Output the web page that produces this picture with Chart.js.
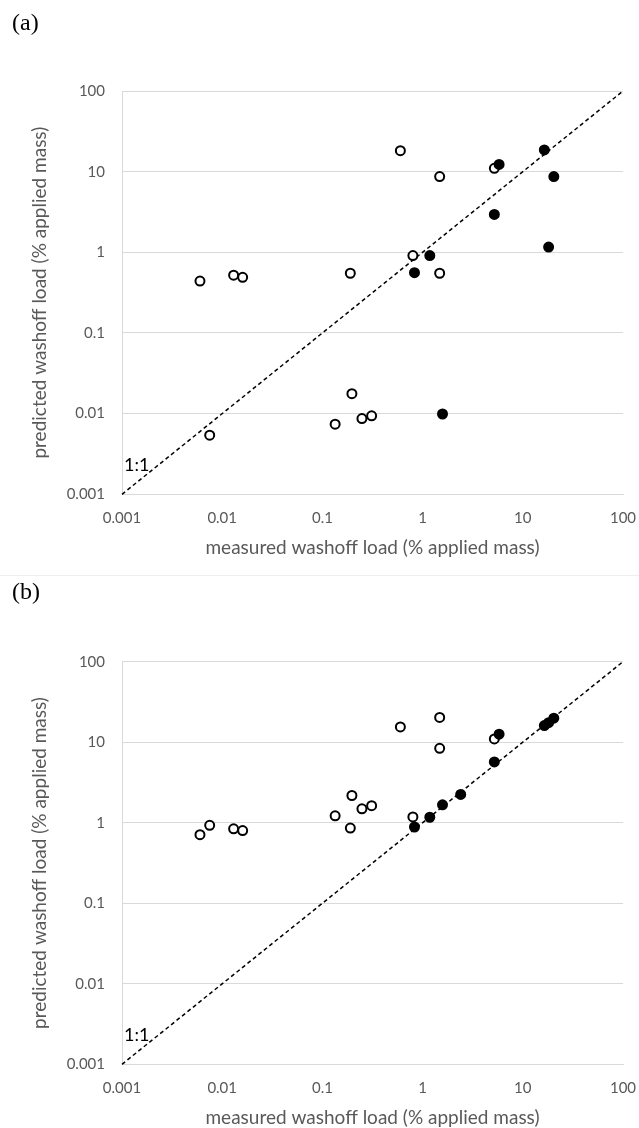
<!DOCTYPE html>
<html>
<head>
<meta charset="utf-8">
<script src="https://cdn.jsdelivr.net/npm/chart.js@4.4.1/dist/chart.umd.min.js"></script>
<style>
  html, body { margin: 0; padding: 0; background: #ffffff; }
  body { width: 639px; height: 1128px; position: relative; overflow: hidden; }
  .panel { position: absolute; left: 0; width: 639px; }
  .tag { position: absolute; left: 12px; font-family: "Liberation Serif", "DejaVu Serif", serif; font-size: 24px; line-height: 1; color: #000; z-index: 2; }
  #sep { position: absolute; left: 0; top: 575px; width: 639px; height: 1px; background: #eeeeee; z-index: 1; }
</style>
</head>
<body>
<div class="tag" style="top:10px">(a)</div>
<div class="tag" style="top:579px">(b)</div>
<div class="panel" id="wrapA" style="top:0px;height:575px"><canvas id="chartA"></canvas></div>
<div class="panel" id="wrapB" style="top:570px;height:558px"><canvas id="chartB"></canvas></div>
<div id="sep"></div>
<script>
// ---- Data (measured washoff load, predicted washoff load; % applied mass) ----
const TICK_VALUES = [0.001, 0.01, 0.1, 1, 10, 100];
const TICK_LABELS = ['0.001', '0.01', '0.1', '1', '10', '100'];

// open circles: same measured values in both panels
const OPEN_MEASURED = [0.006, 0.0075, 0.013, 0.016, 0.134, 0.19, 0.197, 0.248, 0.31, 0.60, 0.80, 1.48, 1.48, 5.2];
const A_OPEN_PREDICTED = [0.44, 0.0054, 0.52, 0.49, 0.0074, 0.55, 0.0177, 0.0087, 0.0094, 18.2, 0.91, 8.7, 0.55, 11.0];
const B_OPEN_PREDICTED = [0.71, 0.93, 0.84, 0.80, 1.22, 0.86, 2.18, 1.49, 1.63, 15.5, 1.18, 20.3, 8.4, 11.0];

// filled circles
const A_FILLED_MEASURED = [0.83, 1.18, 1.58, 5.2, 5.8, 16.4, 18.1, 20.4];
const A_FILLED_PREDICTED = [0.56, 0.91, 0.0099, 2.95, 12.3, 18.6, 1.16, 8.7];
const B_FILLED_MEASURED = [0.83, 1.18, 1.58, 2.4, 5.2, 5.8, 16.4, 18.1, 20.4];
const B_FILLED_PREDICTED = [0.885, 1.17, 1.67, 2.25, 5.7, 12.6, 16.1, 17.5, 19.9];

// 1:1 reference line
const ONE_TO_ONE = [0.001, 100];
const ONE_TO_ONE_LABEL = { text: '1:1', x: 0.00105, y: 0.00232 };

const X_TITLE = 'measured washoff load (% applied mass)';
const Y_TITLE = 'predicted washoff load (% applied mass)';

// ---- helpers ----
const GRAY_TEXT = '#595959';
const GRID = '#d9d9d9';
const FONT = 'Lato, "Open Sans", "Liberation Sans", sans-serif';

function pts(xs, ys) { return xs.map((x, i) => ({ x: x, y: ys[i] })); }

const labelPlugin = {
  id: 'oneToOneLabel',
  afterDatasetsDraw(chart) {
    const { ctx, scales } = chart;
    const px = scales.x.getPixelForValue(ONE_TO_ONE_LABEL.x);
    const py = scales.y.getPixelForValue(ONE_TO_ONE_LABEL.y);
    ctx.save();
    ctx.font = '18px ' + FONT;
    ctx.fillStyle = '#000000';
    ctx.textAlign = 'left';
    ctx.textBaseline = 'middle';
    ctx.fillText(ONE_TO_ONE_LABEL.text, px, py);
    ctx.restore();
  }
};

function makeChart(id, openY, filledX, filledY, topPad, bottomPad) {
  const ctx = document.getElementById(id);
  return new Chart(ctx, {
    type: 'scatter',
    data: {
      datasets: [
        {
          label: 'filled',
          data: pts(filledX, filledY),
          backgroundColor: '#000000',
          borderColor: '#000000',
          borderWidth: 2,
          pointRadius: 4.5,
          pointHoverRadius: 4.5
        },
        {
          label: 'open',
          data: pts(OPEN_MEASURED, openY),
          backgroundColor: '#ffffff',
          borderColor: '#000000',
          borderWidth: 2,
          pointRadius: 4.5,
          pointHoverRadius: 4.5
        },
        {
          type: 'line',
          label: '1:1',
          data: pts(ONE_TO_ONE, ONE_TO_ONE),
          borderColor: '#000000',
          borderWidth: 1.5,
          borderDash: [4, 3],
          pointRadius: 0,
          fill: false,
          clip: false
        }
      ]
    },
    options: {
      responsive: true,
      maintainAspectRatio: false,
      animation: false,
      events: [],
      layout: { padding: { top: topPad, right: 16, left: 0, bottom: bottomPad } },
      plugins: { legend: { display: false }, tooltip: { enabled: false }, title: { display: false } },
      scales: {
        x: {
          type: 'logarithmic',
          min: 0.001, max: 100,
          afterBuildTicks: (s) => { s.ticks = TICK_VALUES.map(v => ({ value: v })); },
          afterFit: (s) => { s.height = 63; s.paddingLeft = 0; s.paddingRight = 0; },
          grid: { display: false, drawTicks: false },
          border: { display: true, color: GRID, width: 1 },
          ticks: {
            autoSkip: false, maxRotation: 0, padding: 15,
            color: GRAY_TEXT, font: { family: FONT, size: 15 },
            callback: (v) => TICK_LABELS[TICK_VALUES.indexOf(v)] ?? ''
          },
          title: { display: true, text: X_TITLE, color: GRAY_TEXT, font: { family: FONT, size: 19, lineHeight: 1 }, padding: { top: 0, bottom: 0 } }
        },
        y: {
          type: 'logarithmic',
          min: 0.001, max: 100,
          afterBuildTicks: (s) => { s.ticks = TICK_VALUES.map(v => ({ value: v })); },
          afterFit: (s) => { s.width = 122; s.paddingTop = 0; s.paddingBottom = 0; },
          grid: { display: true, color: GRID, lineWidth: 1, drawTicks: false },
          border: { display: true, color: GRID, width: 1 },
          ticks: {
            autoSkip: false, padding: 17,
            color: GRAY_TEXT, font: { family: FONT, size: 15 },
            callback: (v) => TICK_LABELS[TICK_VALUES.indexOf(v)] ?? ''
          },
          title: { display: true, text: Y_TITLE, color: GRAY_TEXT, font: { family: FONT, size: 19, lineHeight: 1 }, padding: { top: 30.5, bottom: 0 } }
        }
      }
    },
    plugins: [labelPlugin]
  });
}

makeChart('chartA', A_OPEN_PREDICTED, A_FILLED_MEASURED, A_FILLED_PREDICTED, 91, 17.7);
makeChart('chartB', B_OPEN_PREDICTED, B_FILLED_MEASURED, B_FILLED_PREDICTED, 91.7, 0.7);
</script>
</body>
</html>
